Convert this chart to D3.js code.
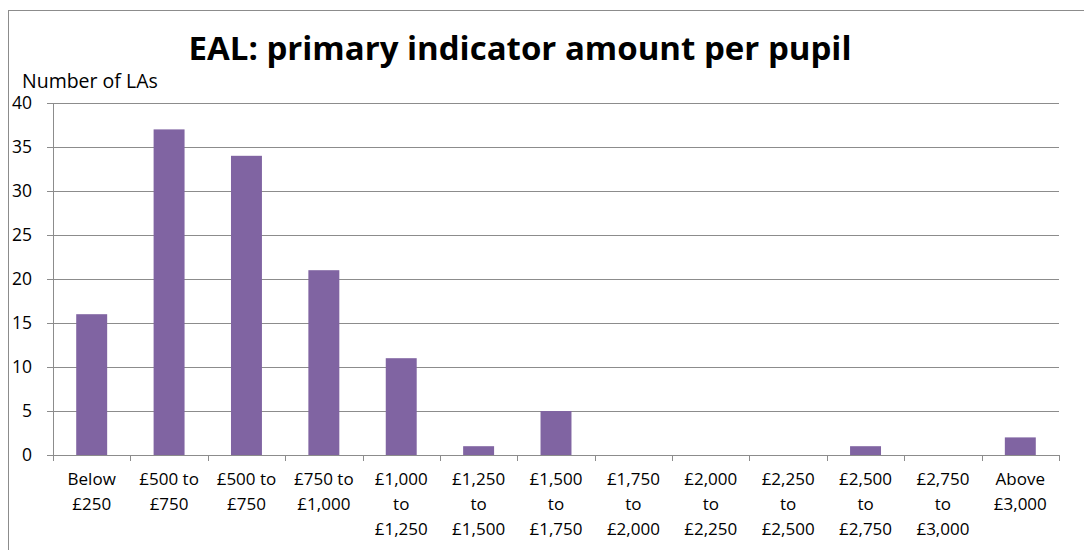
<!DOCTYPE html>
<html>
<head>
<meta charset="utf-8">
<script src="https://cdn.jsdelivr.net/npm/d3@7"></script>
<style>
  body { margin: 0; background: #fff; }
  text { font-family: "Open Sans", sans-serif; fill: #000; }
</style>
</head>
<body>
<script>
"use strict"

// chart data
const categories = [
  ["Below", "£250"],
  ["£500 to", "£750"],
  ["£500 to", "£750"],
  ["£750 to", "£1,000"],
  ["£1,000", "to", "£1,250"],
  ["£1,250", "to", "£1,500"],
  ["£1,500", "to", "£1,750"],
  ["£1,750", "to", "£2,000"],
  ["£2,000", "to", "£2,250"],
  ["£2,250", "to", "£2,500"],
  ["£2,500", "to", "£2,750"],
  ["£2,750", "to", "£3,000"],
  ["Above", "£3,000"],
]
const counts = [16, 37, 34, 21, 11, 1, 5, 0, 0, 0, 1, 0, 2]
const yTicks = [0, 5, 10, 15, 20, 25, 30, 35, 40]

const title  = "EAL: primary indicator amount per pupil"
const yLabel = "Number of LAs"

// SVG area
const area   = [1084, 550]
const margin = { top : 103, right : 25, bottom : 95, left : 53 }
const width  = area[0] - margin.left - margin.right
const height = area[1] - margin.top - margin.bottom

const translate = (x, y) => `translate(${x} ${y})`

const x = d3.scaleBand().domain(d3.range(categories.length)).range([0, width]).paddingInner(0.6).paddingOuter(0.3)
const xTick = d3.scaleBand().domain(d3.range(categories.length)).range([0, width])
const y = d3.scaleLinear().domain([0, 40]).range([height, 0])

const svg = d3.select("body").append("svg")
  .attr("width", area[0])
  .attr("height", area[1])

// chart frame
svg.append("rect")
  .attr("x", 8.5).attr("y", 10.5)
  .attr("width", 1200).attr("height", 700)
  .attr("fill", "none").attr("stroke", "#8c8c8c").attr("stroke-width", 1)

svg.append("text")
  .attr("x", 520).attr("y", 60)
  .attr("text-anchor", "middle")
  .attr("font-size", 33)
  .attr("font-weight", "bold")
  .text(title)

svg.append("text")
  .attr("x", 22).attr("y", 88)
  .attr("font-size", 19.5)
  .text(yLabel)

const g = svg.append("g").attr("transform", translate(margin.left, margin.top))

// gridlines
g.selectAll(".grid")
  .data(yTicks.filter(d => d > 0))
  .join("line")
  .attr("class", "grid")
  .attr("x1", 0).attr("x2", width)
  .attr("y1", d => Math.round(y(d)) + 0.5).attr("y2", d => Math.round(y(d)) + 0.5)
  .attr("stroke", "#8c8c8c")

// y axis
const yAxis = g.append("g")
  .call(d3.axisLeft(y).tickValues(yTicks).tickSize(6).tickPadding(15))
yAxis.select(".domain").attr("stroke", "#8c8c8c")
yAxis.selectAll(".tick line").attr("stroke", "#8c8c8c")
yAxis.selectAll(".tick text").attr("font-size", 17.5).attr("font-family", "'Open Sans', sans-serif")

// bars
g.selectAll(".bar")
  .data(counts)
  .join("rect")
  .attr("class", "bar")
  .attr("x", (d, i) => x(i))
  .attr("width", x.bandwidth())
  .attr("y", d => y(d))
  .attr("height", d => height - y(d))
  .attr("fill", "#8064a2")

// x axis
const xAxis = g.append("g")
  .attr("transform", translate(0, height))
  .call(d3.axisBottom(xTick).tickSize(0).tickFormat(""))
xAxis.select(".domain").attr("stroke", "#8c8c8c")

g.selectAll(".xtick")
  .data(d3.range(categories.length + 1))
  .join("line")
  .attr("class", "xtick")
  .attr("x1", i => Math.round(i * xTick.step()) + 0.5)
  .attr("x2", i => Math.round(i * xTick.step()) + 0.5)
  .attr("y1", height).attr("y2", height + 6)
  .attr("stroke", "#8c8c8c")

const labels = g.selectAll(".xlabel")
  .data(categories)
  .join("text")
  .attr("class", "xlabel")
  .attr("text-anchor", "middle")
  .attr("font-size", 17)
  .attr("transform", (d, i) => translate(xTick(i) + xTick.bandwidth() / 2, height + 30))

labels.selectAll("tspan")
  .data(d => d)
  .join("tspan")
  .attr("x", 0)
  .attr("dy", (d, i) => i === 0 ? 0 : 25)
  .text(d => d)
</script>
</body>
</html>
